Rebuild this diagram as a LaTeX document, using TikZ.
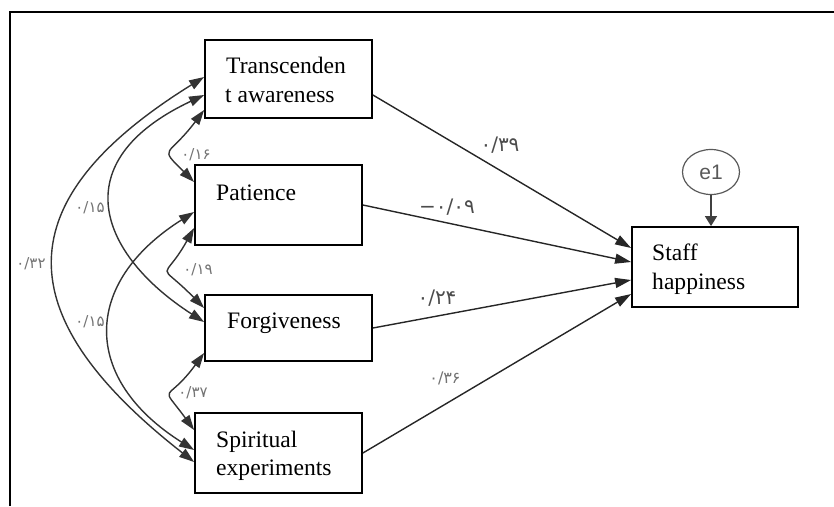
\documentclass[tikz,border=0pt]{standalone}
\usepackage{fontspec}
\setmainfont{Liberation Serif}
\newfontfamily\pdig{DejaVu Sans}
\newfontfamily\esans{Liberation Sans}
\usetikzlibrary{arrows.meta,shapes.geometric}
\begin{document}
\begin{tikzpicture}[x=1pt,y=-1pt,
  box/.style={draw=black,line width=1.8pt,minimum width=167pt,inner sep=0pt},
  txt/.style={font=\fontsize{23.6}{28}\selectfont,inner sep=0pt,anchor=base west},
  cov/.style={draw=black!80,line width=1.4pt,{Triangle[length=15pt,width=10pt]}-{Triangle[length=15pt,width=10pt]}},
  reg/.style={draw=black!85,line width=1.4pt,-{Triangle[length=16pt,width=10pt]}},
  bl/.style={font=\pdig\fontsize{20}{20}\selectfont,text=black!70,inner sep=0pt},
  sl/.style={font=\pdig\fontsize{15}{15}\selectfont,text=black!55,inner sep=0pt}]
\useasboundingbox (0,0) rectangle (834,506);
\draw[line width=1.8pt] (10,506) -- (10,12) -- (834,12);
% boxes
\node[box,minimum height=78pt] (T) at (288.5,79) {};
\node[box,minimum height=80pt] (P) at (278.5,205) {};
\node[box,minimum height=66pt] (F) at (288.5,328) {};
\node[box,minimum height=80pt] (S) at (278.5,453) {};
\node[box,minimum width=166pt,minimum height=80pt] (H) at (715,267) {};
\node[ellipse,draw=black!65,line width=1.2pt,minimum width=57pt,minimum height=45pt,inner sep=0pt,font=\esans\fontsize{21}{21}\selectfont,text=black!65] (E) at (711,172) {e1};
% texts
\node[txt] (T1) at (226,73) {Transcenden};
\node[txt] (T2) at (225,102) {t awareness};
\node[txt] (P1) at (216,200) {Patience};
\node[txt] (F1) at (227,328) {Forgiveness};
\node[txt] (S1) at (216,447) {Spiritual};
\node[txt] (S2) at (216,475) {experiments};
\node[txt] (H1) at (652,260) {Staff};
\node[txt] (H2) at (652,289) {happiness};
% regression paths
\draw[reg] ([yshift=-16pt]T.east) -- ([yshift=19pt]H.west);
\draw[reg] (P.east) -- ([yshift=5pt]H.west);
\draw[reg] (F.east) -- ([yshift=-13pt]H.west);
\draw[reg] (S.east) -- ([yshift=-27pt]H.west);
\draw[draw=black!75,line width=1.4pt,-{Triangle[length=10pt,width=12pt]}] (E.south) -- (E.south |- H.north);
% covariances
\draw[cov] ([yshift=2pt]T.west) .. controls (6,200) and (6,315) .. ([yshift=-9pt]S.west);
\draw[cov] ([yshift=-16pt]T.west) .. controls (62,162) and (100,255) .. ([yshift=6pt]F.west);
\draw[cov] ([yshift=-31pt]T.west) .. controls (168,158) and (158,146) .. ([yshift=23pt]P.west);
\draw[cov] ([yshift=-23pt]P.west) .. controls (162.5,284.5) and (156,259) .. ([yshift=20pt]F.west);
\draw[cov] ([yshift=-7pt]P.west) .. controls (81.5,283) and (81.5,379) .. ([yshift=3pt]S.west);
\draw[cov] ([yshift=-25pt]F.west) .. controls (166,405) and (159,382) .. ([yshift=23pt]S.west);
% labels
\node[bl] (L1) at (500,145) {۰/۳۹};
\node[bl] (L2) at (447,207) {−۰/۰۹};
\node[bl] (L3) at (437,298) {۰/۲۴};
\node[sl,font=\pdig\fontsize{16}{16}\selectfont] (L4) at (445,378) {۰/۳۶};
\node[sl] (L5) at (196,155) {۰/۱۶};
\node[sl] (L6) at (198,270) {۰/۱۹};
\node[sl] (L7) at (193,393) {۰/۳۷};
\node[sl] (L8) at (90,208) {۰/۱۵};
\node[sl] (L9) at (90,322) {۰/۱۵};
\node[sl] (L10) at (31,264) {۰/۳۲};
\end{tikzpicture}
\end{document}
